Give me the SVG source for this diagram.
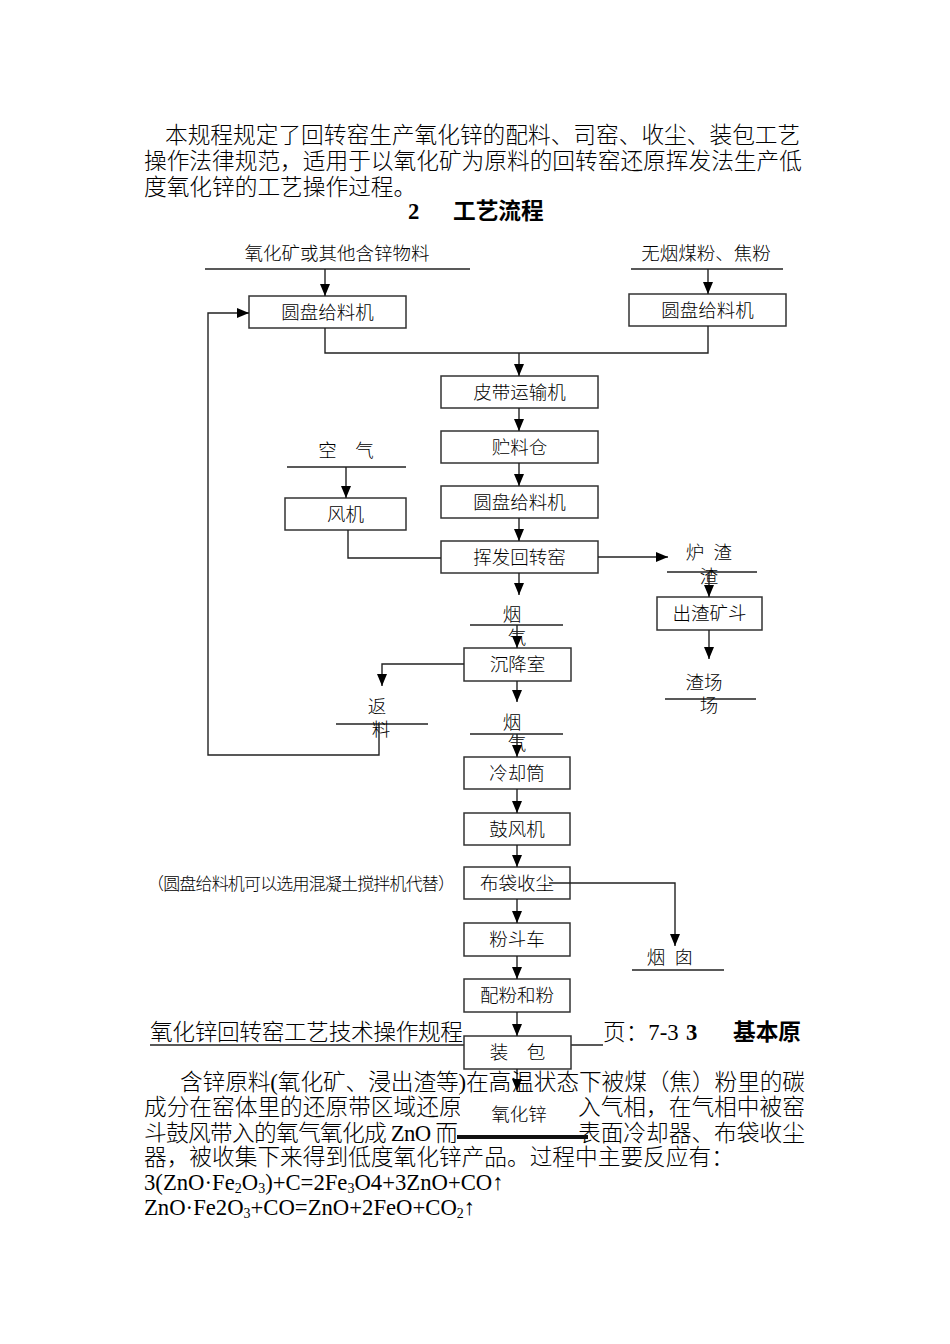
<svg xmlns="http://www.w3.org/2000/svg" width="950" height="1344" viewBox="0 0 950 1344">
<style>
.bg{fill:#fff}
.t{font-family:"Liberation Serif","Noto Sans CJK SC",serif;fill:#000;font-weight:300}
.p{font-size:22.7px}
.b{font-weight:bold}
.l{font-size:18.5px;text-anchor:middle}
.box{fill:#fff;stroke:#333;stroke-width:1.5}
.c{fill:none;stroke:#222;stroke-width:1.4}
.ul{stroke:#222;stroke-width:1.4}
.arr{marker-end:url(#ah)}
</style>
<defs>
<marker id="ah" viewBox="0 0 12 10" refX="12" refY="5" markerWidth="12" markerHeight="10" orient="auto" markerUnits="userSpaceOnUse">
<path d="M0,0 L12,5 L0,10 z" fill="#000"/>
</marker>
</defs>
<rect class="bg" x="0" y="0" width="950" height="1344"/>

<g id="intro">
<text class="t p" x="165" y="143">本规程规定了回转窑生产氧化锌的配料、司窑、收尘、装包工艺</text>
<text class="t p" x="144" y="169">操作法律规范，适用于以氧化矿为原料的回转窑还原挥发法生产低</text>
<text class="t p" x="144" y="195">度氧化锌的工艺操作过程。</text>
<text class="t p b" x="408" y="219">2</text>
<text class="t p b" x="453" y="219">工艺流程</text>
</g>

<g id="header-line">
<text class="t p" x="150" y="1040" textLength="313" lengthAdjust="spacing">氧化锌回转窑工艺技术操作规程</text>
<line class="ul" x1="150" y1="1045" x2="603" y2="1045"/>
<text class="t p" x="603" y="1040">页：7-3</text>
<text class="t p b" x="686" y="1040">3</text>
<text class="t p b" x="733" y="1040">基本原</text>
</g>

<g id="labels">
<text class="t l" x="337" y="260">氧化矿或其他含锌物料</text>
<line class="ul" x1="205" y1="269" x2="470" y2="269"/>
<text class="t l" x="706" y="260">无烟煤粉、焦粉</text>
<line class="ul" x1="631" y1="269" x2="783" y2="269"/>
<text class="t l" x="346" y="457">空　气</text>
<line class="ul" x1="287" y1="467" x2="406" y2="467"/>
<text class="t l" x="709" y="559" xml:space="preserve">炉  渣</text>
<line class="ul" x1="667" y1="572" x2="757" y2="572"/>
<text class="t l" x="709" y="583">渣</text>
<text class="t l" x="512" y="621">烟</text>
<line class="ul" x1="470" y1="625" x2="563" y2="625"/>
<text class="t l" x="517" y="644">气</text>
<text class="t l" x="704" y="689">渣场</text>
<line class="ul" x1="665" y1="699" x2="756" y2="699"/>
<text class="t l" x="709" y="712">场</text>
<text class="t l" x="377" y="713">返</text>
<line class="ul" x1="336" y1="724" x2="428" y2="724"/>
<text class="t l" x="381" y="736">料</text>
<text class="t l" x="512" y="729">烟</text>
<line class="ul" x1="470" y1="734" x2="563" y2="734"/>
<text class="t l" x="517" y="750">气</text>
<text class="t l" x="670" y="964" xml:space="preserve">烟  囱</text>
<line class="ul" x1="632" y1="970" x2="724" y2="970"/>
<text class="t" x="147" y="890" style="font-size:17px" textLength="308" lengthAdjust="spacing">（圆盘给料机可以选用混凝土搅拌机代替）</text>
</g>

<g id="n-feeder1"><rect class="box" x="249" y="296" width="157" height="32"/><text class="t l" x="327.5" y="318.5">圆盘给料机</text></g>
<g id="n-feeder2"><rect class="box" x="629" y="294" width="157" height="32"/><text class="t l" x="707.5" y="316.5">圆盘给料机</text></g>
<g id="n-belt"><rect class="box" x="441" y="376" width="157" height="32"/><text class="t l" x="519.5" y="398.5">皮带运输机</text></g>
<g id="n-bin"><rect class="box" x="441" y="431" width="157" height="32"/><text class="t l" x="519.5" y="453.5">贮料仓</text></g>
<g id="n-feeder3"><rect class="box" x="441" y="486" width="157" height="32"/><text class="t l" x="519.5" y="508.5">圆盘给料机</text></g>
<g id="n-kiln"><rect class="box" x="441" y="541" width="157" height="32"/><text class="t l" x="519.5" y="563.5">挥发回转窑</text></g>
<g id="n-fan"><rect class="box" x="285" y="498" width="121" height="32"/><text class="t l" x="345.5" y="520.5">风机</text></g>
<g id="n-slag"><rect class="box" x="657" y="597" width="105" height="33"/><text class="t l" x="709.5" y="620">出渣矿斗</text></g>
<g id="n-settle"><rect class="box" x="464" y="648" width="107" height="33"/><text class="t l" x="517.5" y="671">沉降室</text></g>
<g id="n-cool"><rect class="box" x="464" y="757" width="106" height="32"/><text class="t l" x="517" y="779.5">冷却筒</text></g>
<g id="n-blower"><rect class="box" x="464" y="813" width="106" height="32"/><text class="t l" x="517" y="835.5">鼓风机</text></g>
<g id="n-bag"><rect class="box" x="464" y="867" width="106" height="32"/><text class="t l" x="517" y="889.5">布袋收尘</text></g>
<g id="n-cart"><rect class="box" x="464" y="923" width="106" height="33"/><text class="t l" x="517" y="946">粉斗车</text></g>
<g id="n-mix"><rect class="box" x="464" y="979" width="106" height="33"/><text class="t l" x="517" y="1002">配粉和粉</text></g>
<g id="n-pack"><rect class="box" x="464" y="1036" width="107" height="33"/><text class="t l" x="517.5" y="1059">装　包</text></g>

<g id="connectors">
<path class="c arr" d="M325,269 V296"/>
<path class="c arr" d="M708,269 V294"/>
<path class="c" d="M325,328 V353 H708 V326"/>
<path class="c arr" d="M519,353 V376"/>
<path class="c arr" d="M519,408 V431"/>
<path class="c arr" d="M519,463 V486"/>
<path class="c arr" d="M519,518 V541"/>
<path class="c arr" d="M346,467 V498"/>
<path class="c" d="M348,530 V558 H441"/>
<path class="c arr" d="M598,557 H668"/>
<path class="c arr" d="M709,572 V597"/>
<path class="c arr" d="M709,630 V659"/>
<path class="c arr" d="M519,573 V595"/>
<path class="c arr" d="M517,625 V648"/>
<path class="c arr" d="M464,664 H382 V686"/>
<path class="c arr" d="M517,681 V702"/>
<path class="c arr" d="M517,734 V757"/>
<path class="c arr" d="M379,724 V755 H208 V313 H249"/>
<path class="c arr" d="M517,789 V813"/>
<path class="c arr" d="M517,845 V867"/>
<path class="c arr" d="M549,883 H675 V946"/>
<path class="c arr" d="M517,899 V923"/>
<path class="c arr" d="M517,956 V979"/>
<path class="c arr" d="M517,1012 V1036"/>
<path class="c arr" d="M517,1069 V1091"/>
</g>

<g id="body">
<text class="t p" x="180" y="1090" textLength="625" lengthAdjust="spacing">含锌原料(氧化矿、浸出渣等)在高温状态下被煤（焦）粉里的碳</text>
<text class="t p" x="144" y="1115">成分在窑体里的还原带区域还原</text>
<text class="t p" x="578" y="1115">入气相，在气相中被窑</text>
<text class="t p" x="144" y="1141" xml:space="preserve" textLength="314" lengthAdjust="spacing">斗鼓风带入的氧气氧化成 ZnO 而</text>
<text class="t p" x="578" y="1141">表面冷却器、布袋收尘</text>
<text class="t p" x="144" y="1165">器，被收集下来得到低度氧化锌产品。过程中主要反应有：</text>
<text class="t p" x="144" y="1190">3(ZnO·Fe<tspan font-size="14" dy="3">2</tspan><tspan dy="-3">O</tspan><tspan font-size="14" dy="3">3</tspan><tspan dy="-3">)+C=2Fe</tspan><tspan font-size="14" dy="3">3</tspan><tspan dy="-3">O4+3ZnO+CO↑</tspan></text>
<text class="t p" x="144" y="1215">ZnO·Fe2O<tspan font-size="14" dy="3">3</tspan><tspan dy="-3">+CO=ZnO+2FeO+CO</tspan><tspan font-size="14" dy="3">2</tspan><tspan dy="-3">↑</tspan></text>
</g>

<g id="n-zno">
<rect x="460" y="1094" width="118" height="41" fill="#fff"/>
<text class="t l" x="519" y="1121">氧化锌</text>
<line x1="457" y1="1137" x2="588" y2="1137" stroke="#111" stroke-width="4"/>
</g>
</svg>
